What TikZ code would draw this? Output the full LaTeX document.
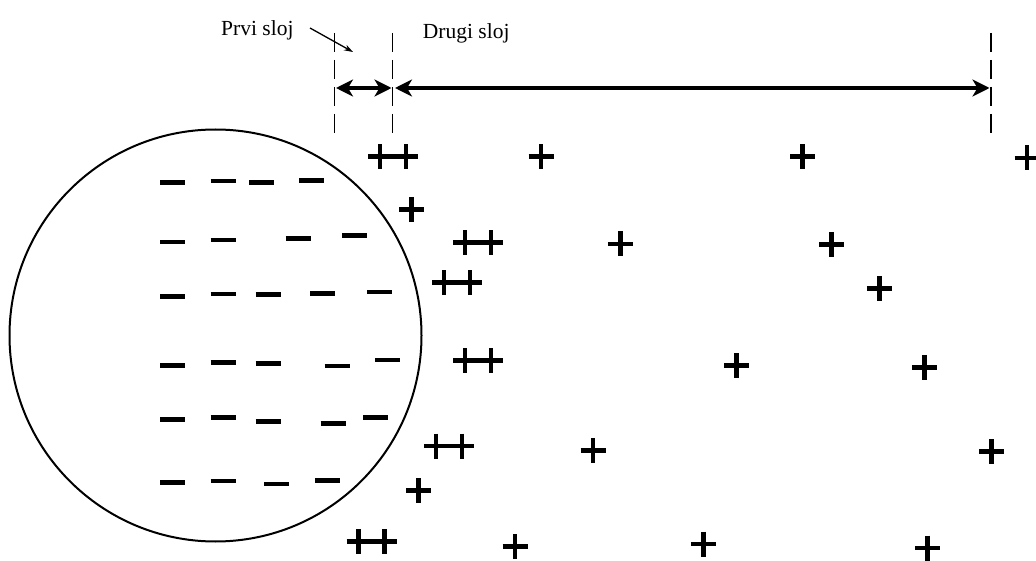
\documentclass[tikz,border=0pt]{standalone}
\usepackage{fontspec}
\setmainfont{Liberation Serif}
\usetikzlibrary{arrows.meta}
\tikzset{
  sign/.style={line width=4.5pt},
  plussign/.pic={\draw[sign] (-12.5,0) -- (12.5,0) (0,-12.5) -- (0,12.5);},
  dplussign/.pic={\draw[sign] (-25,0) -- (25,0) (-13,-12.5) -- (-13,12.5) (13,-12.5) -- (13,12.5);},
  minussign/.pic={\draw[sign] (-12.5,0) -- (12.5,0);},
  boundary/.style={line width=1.3pt, dash pattern=on 19pt off 8pt},
  bigtip/.tip={Stealth[length=17pt,width=17pt,inset=5pt]},
  layerarrow/.style={line width=3.5pt, bigtip-bigtip},
  layertext/.style={inner sep=0pt, anchor=base west, font=\fontsize{21.5}{24}\selectfont},
  sphere/.style={circle, draw, line width=2pt, minimum size=412pt, inner sep=0pt},
}
\begin{document}
\begin{tikzpicture}[x=1pt,y=-1pt]
\useasboundingbox (0,0) rectangle (1036,561);
% sphere
\node[sphere] (ball) at (215.5,335.5) {};
% layer boundaries
\coordinate (b1t) at (334.5,33); \coordinate (b1b) at (334.5,135);
\coordinate (b2t) at (392.7,33); \coordinate (b2b) at (392.7,135);
\coordinate (b3t) at (991,33);   \coordinate (b3b) at (991,135);
\draw[boundary] (b1t) -- (b1b);
\draw[boundary] (b2t) -- (b2b);
\draw[boundary] (b3t) -- (b3b);
\coordinate (a1) at (336,88); \coordinate (a2) at (391.5,88);
\coordinate (a3) at (395,88); \coordinate (a4) at (989.5,88);
\draw[layerarrow] (a1) -- (a2);
\draw[layerarrow] (a3) -- (a4);
% labels
\node[layertext] (prvi) at (221,36) {Prvi sloj};
\node[layertext] (drugi) at (422.7,38.3) {Drugi sloj};
\coordinate (p1) at (310,28); \coordinate (p2) at (353,52);
\draw[line width=1.3pt, -{Stealth[length=9pt,width=6pt]}] (p1) -- (p2);
% negative charges
\foreach \x/\y in {172.5/182.3, 223/181, 261.5/182.3, 311.5/180.7,
  172.5/242, 223/240, 298/238.7, 354.5/235.7,
  172.5/296.7, 223/294, 268/294.7, 322.5/293.3, 379.5/292,
  172.5/365.7, 223/362.7, 268/363.7, 337/366, 387.5/360,
  172.5/419.3, 223/417.3, 268/421.7, 333/423.3, 375.5/417.7,
  172.5/482.3, 223/481, 276.5/484, 327.5/480.7}
  \pic at (\x,\y) {minussign};
% double positive charges (first layer)
\foreach \x/\y in {393/156.7, 478/242.7, 457/282.7, 478/360.7, 449/446, 371.5/541.7}
  \pic at (\x,\y) {dplussign};
% single positive charges
\foreach \x/\y in {411.5/209.3, 418.5/490.7, 541/156.7, 802.7/156.7, 1027/158,
  620.4/244, 831.7/244.3, 879.3/288.3, 736.7/365.7, 924.3/367.3,
  593/450.7, 991.7/451.7, 515/546.7, 703.3/544, 927.7/548}
  \pic at (\x,\y) {plussign};
\end{tikzpicture}
\end{document}
